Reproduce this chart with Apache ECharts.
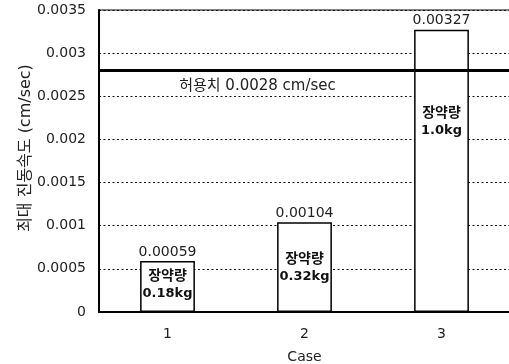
<!DOCTYPE html>
<html>
<head>
<meta charset="utf-8">
<script src="https://cdn.jsdelivr.net/npm/echarts@6/dist/echarts.min.js"></script>
<style>
  html, body { margin: 0; padding: 0; background: #fff; }
  #chart { width: 509px; height: 364px; }
</style>
</head>
<body>
<div id="chart"></div>
<script>
var cases = ['1', '2', '3'];
var peakVelocity = [0.00059, 0.00104, 0.00327];
var chargeNotes = ['장약량\n0.18kg', '장약량\n0.32kg', '장약량\n1.0kg'];
var noteAnchor = [0.00031, 0.00051, 0.0022];
var limitValue = 0.0028;
var limitText = '허용치 0.0028 cm/sec';
var yTicks = [0, 0.0005, 0.001, 0.0015, 0.002, 0.0025, 0.003, 0.0035];

var font = '"DejaVu Sans", "Noto Sans CJK KR", sans-serif';

var chart = echarts.init(document.getElementById('chart'));

// 장약량 메모
var notePoints = [];
for (var i = 0; i < cases.length; i++) {
	notePoints.push({
		coord: [cases[i], noteAnchor[i]],
		value: chargeNotes[i]
	});
}

var option = {
	animation: false,
	backgroundColor: '#fff',
	textStyle: { fontFamily: font },
	grid: {
		left: 99, top: 10, right: -1, bottom: 52,
		outerBoundsMode: 'none',
		containLabel: false,
		show: true, borderColor: '#000', borderWidth: 1
	},
	xAxis: {
		type: 'category',
		data: cases,
		name: 'Case',
		nameLocation: 'middle',
		nameGap: 38,
		nameTextStyle: { fontSize: 14, color: '#222', fontFamily: font },
		axisLine: { lineStyle: { color: '#000', width: 2 } },
		axisTick: { inside: true, length: 3, lineStyle: { color: '#000' } },
		axisLabel: { fontSize: 14, color: '#222', margin: 15, fontFamily: font }
	},
	yAxis: {
		type: 'value',
		min: 0,
		max: yTicks[yTicks.length - 1],
		interval: yTicks[1] - yTicks[0],
		name: '최대 진동속도 (cm/sec)',
		nameLocation: 'middle',
		nameGap: 65,
		nameMoveOverlap: false,
		nameTextStyle: {
			fontSize: 16, color: '#222', fontFamily: font,
			padding: [0, 0, 0, 26]
		},
		axisLine: { show: true, lineStyle: { color: '#000', width: 2 } },
		axisTick: { show: false },
		axisLabel: {
			fontSize: 14, color: '#222', margin: 13, fontFamily: font,
			formatter: function (v) { return String(+v.toFixed(5)); }
		},
		splitLine: { lineStyle: { color: '#111', type: [2, 2.5], width: 1 } }
	},
	series: [{
		type: 'bar',
		data: peakVelocity,
		barWidth: '40%',
		itemStyle: { color: '#fff', borderColor: '#000', borderWidth: 1.5 },
		label: {
			show: true, position: 'top', distance: 2,
			fontSize: 14, color: '#222', fontFamily: font
		},
		markPoint: {
			symbol: 'rect',
			symbolSize: 1,
			itemStyle: { color: 'rgba(0,0,0,0)' },
			label: {
				show: true, position: 'inside',
				formatter: function (p) {
					var t = p.value.split('\n');
					return '{k|' + t[0] + '}\n{n|' + t[1] + '}';
				},
				rich: {
					k: { fontSize: 14, fontWeight: 'bold', lineHeight: 17, color: '#111', fontFamily: font },
					n: { fontSize: 13, fontWeight: 'bold', lineHeight: 17, color: '#111', fontFamily: font }
				}
			},
			data: notePoints
		}
	}, {
		// 허용치 선
		type: 'line',
		data: [],
		markLine: {
			silent: true,
			symbol: 'none',
			precision: 6,
			lineStyle: { color: '#000', width: 3, type: 'solid' },
			label: {
				show: true,
				position: 'insideMiddleBottom',
				formatter: limitText,
				distance: 8,
				padding: [0, 94, 0, 0],
				fontSize: 15, color: '#222', fontFamily: font
			},
			data: [{ yAxis: limitValue }]
		}
	}]
};

chart.setOption(option);
</script>
</body>
</html>
